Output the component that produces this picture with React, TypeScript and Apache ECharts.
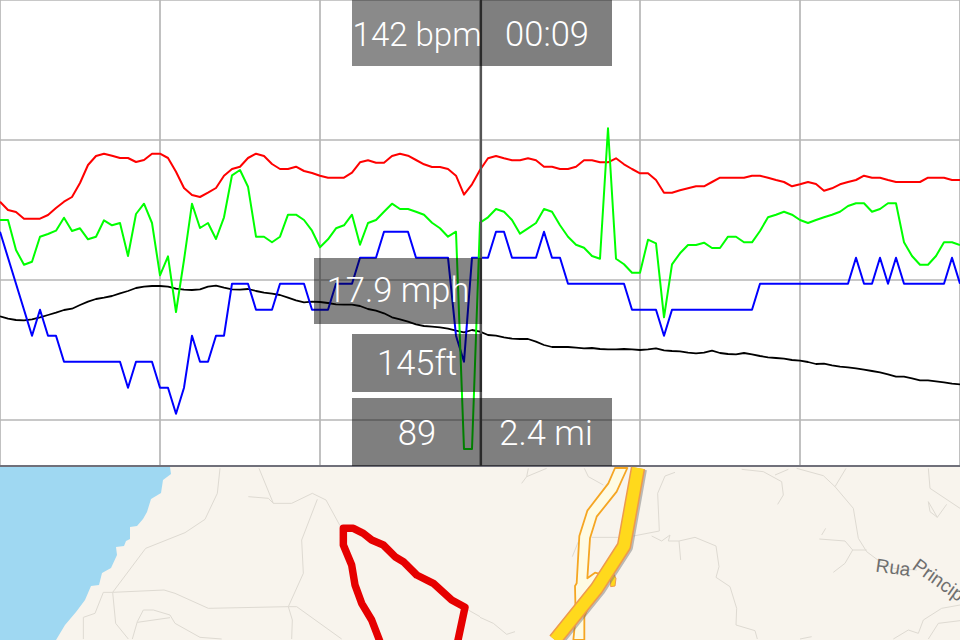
import React, { useEffect, useRef } from "react";
import * as echarts from "echarts";

const heartRate = [201.7,210,212,218.7,218.7,218.7,215,208,201.7,197,183,165,156,153.7,155.7,158,158,162,160,153.7,153.7,158,171.7,188,195,197,192.7,188,175.7,169,166.7,158,153.7,156,164,169,169,166.7,171,173,175.7,177.7,177.7,177.7,172.7,162.3,160.3,162.7,162.7,156,153.7,155.7,160,164.3,167,167,169,175.7,194.7,184.3,170,158.3,156,158.3,160.3,160.3,158.3,160.3,166.7,166.7,169,169,166.7,160.3,160.3,162.3,162.3,158.3,164.3,169,173.3,173.3,180,192.7,192.7,190.3,188.3,186.3,186.3,182,177.7,177.7,177.7,177.7,175.7,175.7,177.7,180,182,186.3,184.3,182,184,190.7,188.3,184.3,182,180,175.7,177.7,177.7,180,182,182,182,182,177.7,177.7,177.7,180,180];
const cadence = [220,220,250,264.7,261.7,236.7,234,230.7,217.7,231,228.3,239.3,236.7,220.3,225.3,223,256,214,203.7,223,275.3,256.3,312,260,203.7,228,223,239,217.3,175.3,170,186.7,236.7,236.7,242.3,236.7,214.7,214.7,220,230.7,247.3,239.3,228.3,225.3,214.7,244.7,223,220,211.7,203.7,209,209,211.7,214.7,222.7,228.3,236.7,231.7,449,449,222.7,217.3,209,211.7,220,233.7,228.3,223,209,211.7,225.3,236.7,244.7,247.7,256,258.7,128.3,258.7,264.3,272.7,272.7,239.7,243.3,317.3,264.3,253.3,245,245,242.7,248,248,236.7,236.7,242.3,242.3,231,217.3,214.7,211.7,214.7,220,223,220,217.3,214.7,211.7,206,203.3,203.3,211.7,209,203.3,203.3,242.3,256,264.7,264.7,256,242.3,242.3,245];
const speed = [231.7,257.7,283.7,309.7,335.7,309.7,335.7,335.7,361.7,361.7,361.7,361.7,361.7,361.7,361.7,361.7,387.7,361.7,361.7,361.7,387.7,387.7,413.7,387.7,335.7,361.7,361.7,335.7,335.7,283.7,283.7,283.7,309.7,309.7,309.7,283.7,283.7,283.7,283.7,309.7,309.7,309.7,283.7,283.7,283.7,257.7,257.7,257.7,231.7,231.7,231.7,231.7,257.7,257.7,257.7,257.7,257.7,335.7,361.7,257.7,257.7,257.7,231.7,231.7,257.7,257.7,257.7,257.7,231.7,257.7,257.7,283.7,283.7,283.7,283.7,283.7,283.7,283.7,283.7,309.7,309.7,309.7,309.7,335.7,309.7,309.7,309.7,309.7,309.7,309.7,309.7,309.7,309.7,309.7,309.7,283.7,283.7,283.7,283.7,283.7,283.7,283.7,283.7,283.7,283.7,283.7,283.7,257.7,283.7,283.7,257.7,283.7,257.7,283.7,283.7,283.7,283.7,283.7,283.7,257.7,283.7];
const elevation = [316.3,318.7,320,320.3,319.3,317.3,315,312.7,310,308.7,305,301.7,299,297.7,296,293.3,291,288,286.7,286,286,286.7,288.7,289.7,290,289.3,286.7,285.7,287.7,289.3,289.7,289,291,292.7,293.7,295,297.7,300.3,302.3,301.7,302,303,304.3,304.7,304.7,306,309,310.7,313.3,317.3,319.3,321.7,324.3,326,326.7,327.3,328.7,330.7,332.3,330,331.7,335,335.7,337.3,338.7,339,339,341.7,345,347,347,347,347.7,348.3,348,349,349.3,349.3,349,349.3,350,349.3,348.3,350.3,351,351.3,352.7,353.3,352.7,350.7,353,354,354.3,353,354.3,356,357.3,358,358.7,360,360.7,362,364,363.7,365.3,366.7,367.3,368.3,369.7,371,372.3,374.3,376.7,376.7,378.3,380.3,380.3,381.3,382.3,383.7,384.3];
const cursorIndex = 60.12;

const readoutBpm = "142 bpm";
const readoutTime = "00:09";
const readoutSpeed = "17.9 mph";
const readoutElevation = "145ft";
const readoutCadence = "89";
const readoutDistance = "2.4 mi";

// Map backdrop shapes (screen pixels, x / y)
const water: number[][] = [[0,467],[170,467],[171,474],[163,480],[161,493],[151,499],[147,512],[143,519],[137,526],[130,527],[130,539],[126,541],[124,546],[116,547],[117,555],[111,568],[102,573],[99,585],[91,586],[85,600],[76,612],[65,625],[56,640],[0,640]];
// thin roads given at 3x, offset from the left half of the map
const roadsLeft: number[][][] = [
  [[660,25],[652,100],[615,178],[555,218],[437,265],[338,397],[347,490],[385,537]],
  [[777,25],[820,130],[875,130],[937,100],[978,120],[1020,197]],
  [[745,110],[805,115],[820,130]],
  [[952,118],[905,240],[910,340],[865,440],[625,445],[525,400],[492,390],[338,397],[310,397],[285,460],[250,472],[250,537]],
  [[865,440],[877,480],[875,537]],
  [[865,440],[890,440],[1025,537]],
  [[397,537],[412,485],[430,450],[460,450],[510,465],[525,490],[600,532],[665,537]],
  [[412,487],[510,473]],
  [[1405,450],[1440,470]],
];
const roadsRight: number[][][] = [
  [[145,25],[140,50],[125,70]],
  [[140,50],[200,25]],
  [[313,25],[325,50],[370,75]],
  [[585,37],[555,48],[533,100],[538,213],[460,228]],
  [[335,232],[415,232]],
  [[515,228],[545,243],[570,225],[565,243],[597,243],[645,232],[708,258],[717,320],[708,352],[750,380],[770,445],[768,495],[825,512],[832,537]],
  [[597,243],[602,300]],
  [[785,28],[850,35],[905,65],[910,105],[893,133]],
  [[885,45],[925,28]],
  [[950,25],[1030,47],[1065,80],[1120,145],[1135,235],[1160,275],[1200,305],[1240,325],[1310,330]],
  [[1065,80],[1098,25]],
  [[1018,237],[1095,243],[1118,270],[1160,270]],
  [[1118,270],[1095,310],[1060,337]],
  [[1025,225],[1037,205]],
  [[1345,25],[1350,85],[1440,145]],
  [[1345,125],[1372,172],[1400,133]],
  [[1345,125],[1350,155],[1372,172]],
  [[0,472],[40,490],[80,523],[105,515]],
  [[1240,537],[1285,510],[1315,520],[1330,480],[1385,445],[1440,435]],
  [[1345,537],[1375,490],[1440,482]],
  [[960,537],[995,530]],
  [[277,290],[295,245]],
];
const trackLoop: number[][] = [[1140,545],[1115,480],[1085,430],[1065,375],[1055,315],[1030,255],[1030,205],[1060,205],[1090,220],[1115,240],[1150,255],[1185,290],[1210,305],[1250,345],[1300,370],[1355,420],[1395,442],[1373,545]];
const sideRoad: number[][] = [[405,24],[385,70],[322,152],[298,228],[290,370],[285,378],[287,470],[280,540],[313,540],[313,470],[350,380],[372,345],[345,338],[322,355],[330,235],[350,170],[410,95],[442,24]];
const ramp: number[][] = [[400,340],[408,355],[405,378],[392,380],[392,350]];
const motorway: number[][] = [[474,24],[432,258],[350,385],[225,540]];

const toLeft = (p: number[][]) => p.map(([x, y]) => [x / 3, 460 + y / 3]);
const toRight = (p: number[][]) => p.map(([x, y]) => [480 + x / 3, 460 + y / 3]);

const line = (values: number[], color: string, width: number, mark?: any) => ({
  type: "line",
  data: values.map((v, i) => [i, v]),
  showSymbol: false,
  symbol: "none",
  silent: true,
  lineStyle: { color, width, join: "round" },
  markLine: mark,
});

const FONT = "'Liberation Sans', Arial, sans-serif";
const OVER = 20;
const panel = (x: number, y: number, width: number, height: number, alpha = 0.5) => ({
  type: "rect",
  z: OVER,
  silent: true,
  shape: { x, y, width, height },
  style: { fill: `rgba(0,0,0,${alpha})` },
});
const label = (text: string, x: number, y: number, size = 34.5) => ({
  type: "text",
  z: OVER + 1,
  silent: true,
  x,
  y,
  style: { text, fill: "#fff", font: `300 ${size}px Roboto, 'Liberation Sans', sans-serif`, textAlign: "center", textVerticalAlign: "middle" },
});
const road = (points: number[][], stroke: string, lineWidth: number, z = 1) => ({
  type: "polyline",
  z,
  silent: true,
  shape: { points },
  style: { stroke, lineWidth, fill: "none", lineJoin: "round", lineCap: "butt" },
});
const poly = (points: number[][], fill: string, stroke: string, lineWidth: number, z = 1) => ({
  type: "polygon",
  z,
  silent: true,
  shape: { points },
  style: { fill, stroke, lineWidth, lineJoin: "round" },
});

export default function App() {
  const ref = useRef<HTMLDivElement>(null);
  useEffect(() => {
    document.body.style.margin = "0";
    const chart = echarts.init(ref.current!, undefined, { renderer: "svg" });
    const mapElements: any[] = [
      { type: "rect", z: 0, silent: true, shape: { x: 0, y: 467, width: 960, height: 173 }, style: { fill: "#f8f4ed" } },
      poly(water, "#9fd8f2", "none", 0),
      ...roadsLeft.map((r) => road(toLeft(r), "#dedad2", 1)),
      ...roadsRight.map((r) => road(toRight(r), "#dedad2", 1)),
      poly(toRight(sideRoad), "#fefbe3", "#f5a623", 1.8, 2),
      poly(toRight(ramp), "#ffd91c", "#ee9a4d", 1, 2),
      road(toRight(motorway).map(([x, y]) => [x + 2, y + 1]), "rgba(110,110,110,0.45)", 14, 3),
      road(toRight(motorway), "#ee9a4d", 14.5, 4),
      road(toRight(motorway), "#ffd91c", 11.5, 5),
      road(toLeft(trackLoop), "#e60000", 7.5, 6),
      {
        type: "text", z: 7, silent: true, x: 876, y: 565, rotation: -0.14,
        style: { text: "Rua", fill: "#6f6f6f", font: `19px ${FONT}`, textAlign: "left", textVerticalAlign: "middle" },
      },
      {
        type: "text", z: 7, silent: true, x: 915, y: 563, rotation: -0.62,
        style: { text: "Princip", fill: "#6f6f6f", font: `19px ${FONT}`, textAlign: "left", textVerticalAlign: "middle" },
      },
    ];
    chart.setOption({
      animation: false,
      backgroundColor: "#fff",
      grid: { left: 0, top: 0, width: 960, height: 466, containLabel: false },
      xAxis: {
        type: "value",
        min: 0,
        max: 120,
        interval: 20,
        axisLabel: { show: false },
        axisTick: { show: false },
        axisLine: { show: true, onZero: false, lineStyle: { color: "#70707a", width: 2 } },
        splitLine: { show: true, lineStyle: { color: "#b6b6b6", width: 1.7 } },
      },
      yAxis: {
        type: "value",
        inverse: true,
        min: 0,
        max: 466,
        interval: 140,
        axisLabel: { show: false },
        axisTick: { show: false },
        axisLine: { show: false },
        splitLine: { show: true, lineStyle: { color: "#b6b6b6", width: 1.7 } },
      },
      series: [
        line(elevation, "#000", 1.8, {
          silent: true,
          symbol: "none",
          label: { show: false },
          lineStyle: { color: "#555", width: 2.2, type: "solid" },
          data: [{ xAxis: cursorIndex }],
        }),
        line(heartRate, "#ff0000", 2),
        line(speed, "#0000ff", 2),
        line(cadence, "#00ff00", 2),
      ],
      graphic: {
        elements: [
          ...mapElements,
          panel(352, 0, 128, 66, 0.46),
          panel(480, 0, 132, 66),
          panel(314, 258, 168, 66, 0.48),
          panel(352, 334, 130, 58),
          panel(352, 398, 260, 68),
          label(readoutBpm, 417, 34, 33),
          label(readoutTime, 547, 34),
          label(readoutSpeed, 398, 290),
          label(readoutElevation, 417, 363),
          label(readoutCadence, 417, 433),
          label(readoutDistance, 546, 433),
        ],
      },
    });
    return () => chart.dispose();
  }, []);
  return <div ref={ref} style={{ width: 960, height: 640, position: "fixed", left: 0, top: 0 }} />;
}
